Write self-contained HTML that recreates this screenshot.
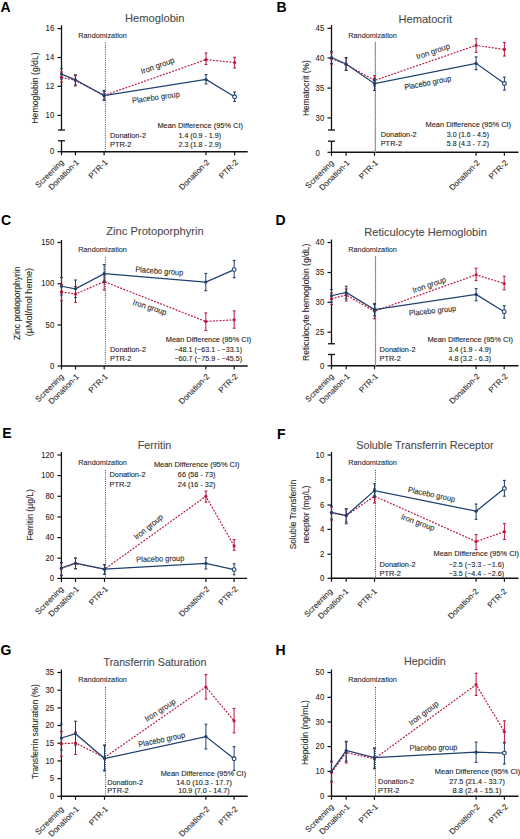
<!DOCTYPE html><html><head><meta charset="utf-8"><style>html,body{margin:0;padding:0;background:#fff;}svg{display:block;}text{font-family:"Liberation Sans", sans-serif;}</style></head><body>
<svg width="520" height="839" viewBox="0 0 520 839">
<rect width="520" height="839" fill="#fff"/>
<text x="0.5" y="12.3" font-size="14" fill="#000" stroke="#000" stroke-width="0" text-anchor="start" font-weight="bold">A</text>
<text x="154.8" y="22.3" font-size="11" fill="#4a4a4a" stroke="#4a4a4a" stroke-width="0.1" text-anchor="middle" font-weight="normal" textLength="59.5" lengthAdjust="spacingAndGlyphs">Hemoglobin</text>
<line x1="61.5" y1="25.2" x2="61.5" y2="130" stroke="#111" stroke-width="1.3"/>
<line x1="58.0" y1="130" x2="65.0" y2="130" stroke="#111" stroke-width="1.3"/>
<line x1="58.0" y1="140.8" x2="65.0" y2="140.8" stroke="#111" stroke-width="1.3"/>
<line x1="61.5" y1="140.8" x2="61.5" y2="151.7" stroke="#111" stroke-width="1.3"/>
<line x1="57.5" y1="28.6" x2="61.5" y2="28.6" stroke="#111" stroke-width="1.2"/>
<text x="54.2" y="31.3" font-size="8.6" fill="#2a2a2a" stroke="#2a2a2a" stroke-width="0.1" text-anchor="end" font-weight="normal" textLength="8.61" lengthAdjust="spacingAndGlyphs">16</text>
<line x1="57.5" y1="57.5" x2="61.5" y2="57.5" stroke="#111" stroke-width="1.2"/>
<text x="54.2" y="60.2" font-size="8.6" fill="#2a2a2a" stroke="#2a2a2a" stroke-width="0.1" text-anchor="end" font-weight="normal" textLength="8.61" lengthAdjust="spacingAndGlyphs">14</text>
<line x1="57.5" y1="86.3" x2="61.5" y2="86.3" stroke="#111" stroke-width="1.2"/>
<text x="54.2" y="89.0" font-size="8.6" fill="#2a2a2a" stroke="#2a2a2a" stroke-width="0.1" text-anchor="end" font-weight="normal" textLength="8.61" lengthAdjust="spacingAndGlyphs">12</text>
<line x1="57.5" y1="115.4" x2="61.5" y2="115.4" stroke="#111" stroke-width="1.2"/>
<text x="54.2" y="118.10000000000001" font-size="8.6" fill="#2a2a2a" stroke="#2a2a2a" stroke-width="0.1" text-anchor="end" font-weight="normal" textLength="8.61" lengthAdjust="spacingAndGlyphs">10</text>
<line x1="57.5" y1="151.7" x2="61.5" y2="151.7" stroke="#111" stroke-width="1.2"/>
<text x="54.2" y="154.39999999999998" font-size="8.6" fill="#2a2a2a" stroke="#2a2a2a" stroke-width="0.1" text-anchor="end" font-weight="normal" textLength="4.3" lengthAdjust="spacingAndGlyphs">0</text>
<line x1="60.9" y1="151.7" x2="247.7" y2="151.7" stroke="#111" stroke-width="1.4"/>
<line x1="61.5" y1="151.7" x2="61.5" y2="155.2" stroke="#111" stroke-width="1.2"/>
<line x1="75.4" y1="151.7" x2="75.4" y2="155.2" stroke="#111" stroke-width="1.2"/>
<line x1="104.1" y1="151.7" x2="104.1" y2="155.2" stroke="#111" stroke-width="1.2"/>
<line x1="206" y1="151.7" x2="206" y2="155.2" stroke="#111" stroke-width="1.2"/>
<line x1="234.6" y1="151.7" x2="234.6" y2="155.2" stroke="#111" stroke-width="1.2"/>
<text x="64.1" y="162.8" font-size="8" fill="#2a2a2a" stroke="#2a2a2a" stroke-width="0.1" text-anchor="end" font-weight="normal" transform="rotate(-45 64.1 162.8)">Screening</text>
<text x="79.4" y="162.8" font-size="8" fill="#2a2a2a" stroke="#2a2a2a" stroke-width="0.1" text-anchor="end" font-weight="normal" transform="rotate(-45 79.4 162.8)">Donation-1</text>
<text x="108.1" y="162.8" font-size="8" fill="#2a2a2a" stroke="#2a2a2a" stroke-width="0.1" text-anchor="end" font-weight="normal" transform="rotate(-45 108.1 162.8)">PTR-1</text>
<text x="210.0" y="162.8" font-size="8" fill="#2a2a2a" stroke="#2a2a2a" stroke-width="0.1" text-anchor="end" font-weight="normal" transform="rotate(-45 210.0 162.8)">Donation-2</text>
<text x="238.6" y="162.8" font-size="8" fill="#2a2a2a" stroke="#2a2a2a" stroke-width="0.1" text-anchor="end" font-weight="normal" transform="rotate(-45 238.6 162.8)">PTR-2</text>
<text x="38.2" y="88" font-size="9.8" fill="#2a2a2a" stroke="#2a2a2a" stroke-width="0.1" text-anchor="middle" font-weight="normal" transform="rotate(-90 38.2 88)" textLength="71.3" lengthAdjust="spacingAndGlyphs">Hemoglobin (g/dL)</text>
<line x1="105.4" y1="42.5" x2="105.4" y2="151.7" stroke="#333" stroke-width="0.9" stroke-dasharray="1,1.2"/>
<text x="78.3" y="38.400000000000006" font-size="7.6" fill="#2a2a2a" stroke="#2a2a2a" stroke-width="0.1" text-anchor="start" font-weight="normal" textLength="48.6" lengthAdjust="spacingAndGlyphs">Randomization</text>
<path d="M61.5,77.3 L75.4,80.5 L104.1,95.5 L206,59.6 L234.6,62.5" fill="none" stroke="#bb173f" stroke-width="1.2" stroke-dasharray="1.9,1.4"/>
<line x1="61.5" y1="72" x2="61.5" y2="82" stroke="#bb173f" stroke-width="1.0"/>
<line x1="60.1" y1="72" x2="62.9" y2="72" stroke="#bb173f" stroke-width="1.1"/>
<line x1="60.1" y1="82" x2="62.9" y2="82" stroke="#bb173f" stroke-width="1.1"/>
<circle cx="61.5" cy="77.3" r="1.6" fill="#bb173f"/>
<line x1="75.4" y1="75.5" x2="75.4" y2="86" stroke="#bb173f" stroke-width="1.0"/>
<line x1="74.0" y1="75.5" x2="76.80000000000001" y2="75.5" stroke="#bb173f" stroke-width="1.1"/>
<line x1="74.0" y1="86" x2="76.80000000000001" y2="86" stroke="#bb173f" stroke-width="1.1"/>
<circle cx="75.4" cy="80.5" r="1.6" fill="#bb173f"/>
<line x1="104.1" y1="91" x2="104.1" y2="100" stroke="#bb173f" stroke-width="1.0"/>
<line x1="102.69999999999999" y1="91" x2="105.5" y2="91" stroke="#bb173f" stroke-width="1.1"/>
<line x1="102.69999999999999" y1="100" x2="105.5" y2="100" stroke="#bb173f" stroke-width="1.1"/>
<circle cx="104.1" cy="95.5" r="1.6" fill="#bb173f"/>
<line x1="206" y1="53" x2="206" y2="64.5" stroke="#bb173f" stroke-width="1.0"/>
<line x1="204.6" y1="53" x2="207.4" y2="53" stroke="#bb173f" stroke-width="1.1"/>
<line x1="204.6" y1="64.5" x2="207.4" y2="64.5" stroke="#bb173f" stroke-width="1.1"/>
<circle cx="206" cy="59.6" r="1.6" fill="#bb173f"/>
<line x1="234.6" y1="57.3" x2="234.6" y2="68" stroke="#bb173f" stroke-width="1.0"/>
<line x1="233.2" y1="57.3" x2="236.0" y2="57.3" stroke="#bb173f" stroke-width="1.1"/>
<line x1="233.2" y1="68" x2="236.0" y2="68" stroke="#bb173f" stroke-width="1.1"/>
<circle cx="234.6" cy="62.5" r="1.6" fill="#bb173f"/>
<path d="M61.5,74.1 L75.4,79.8 L104.1,95.5 L206,79.5 L234.6,96.8" fill="none" stroke="#1d406c" stroke-width="1.25"/>
<line x1="61.5" y1="68.7" x2="61.5" y2="79" stroke="#1d406c" stroke-width="1.0"/>
<line x1="60.1" y1="68.7" x2="62.9" y2="68.7" stroke="#1d406c" stroke-width="1.1"/>
<line x1="60.1" y1="79" x2="62.9" y2="79" stroke="#1d406c" stroke-width="1.1"/>
<circle cx="61.5" cy="74.1" r="1.6" fill="#1d406c"/>
<line x1="75.4" y1="74.8" x2="75.4" y2="85" stroke="#1d406c" stroke-width="1.0"/>
<line x1="74.0" y1="74.8" x2="76.80000000000001" y2="74.8" stroke="#1d406c" stroke-width="1.1"/>
<line x1="74.0" y1="85" x2="76.80000000000001" y2="85" stroke="#1d406c" stroke-width="1.1"/>
<circle cx="75.4" cy="79.8" r="1.6" fill="#1d406c"/>
<line x1="104.1" y1="90.6" x2="104.1" y2="100.4" stroke="#1d406c" stroke-width="1.0"/>
<line x1="102.69999999999999" y1="90.6" x2="105.5" y2="90.6" stroke="#1d406c" stroke-width="1.1"/>
<line x1="102.69999999999999" y1="100.4" x2="105.5" y2="100.4" stroke="#1d406c" stroke-width="1.1"/>
<circle cx="104.1" cy="95.5" r="1.6" fill="#1d406c"/>
<line x1="206" y1="74.6" x2="206" y2="84" stroke="#1d406c" stroke-width="1.0"/>
<line x1="204.6" y1="74.6" x2="207.4" y2="74.6" stroke="#1d406c" stroke-width="1.1"/>
<line x1="204.6" y1="84" x2="207.4" y2="84" stroke="#1d406c" stroke-width="1.1"/>
<circle cx="206" cy="79.5" r="1.6" fill="#1d406c"/>
<line x1="234.6" y1="92" x2="234.6" y2="101.4" stroke="#1d406c" stroke-width="1.0"/>
<line x1="233.2" y1="92" x2="236.0" y2="92" stroke="#1d406c" stroke-width="1.1"/>
<line x1="233.2" y1="101.4" x2="236.0" y2="101.4" stroke="#1d406c" stroke-width="1.1"/>
<circle cx="234.6" cy="96.8" r="1.9" fill="#fff" stroke="#1d406c" stroke-width="1.1"/>
<text x="158.5" y="68.3" font-size="8" fill="#2a2a2a" stroke="#2a2a2a" stroke-width="0.1" text-anchor="middle" font-weight="normal" transform="rotate(-20 158.5 68.3)" textLength="35" lengthAdjust="spacingAndGlyphs">Iron group</text>
<text x="156.3" y="100" font-size="8" fill="#2a2a2a" stroke="#2a2a2a" stroke-width="0.1" text-anchor="middle" font-weight="normal" transform="rotate(-8 156.3 100)" textLength="48" lengthAdjust="spacingAndGlyphs">Placebo group</text>
<text x="200.2" y="127.8" font-size="7.4" fill="#222" stroke="#222" stroke-width="0.1" text-anchor="middle" font-weight="normal" textLength="85.5" lengthAdjust="spacingAndGlyphs">Mean Difference (95% CI)</text>
<text x="110" y="138" font-size="7.4" fill="#222" stroke="#222" stroke-width="0.1" text-anchor="start" font-weight="normal" textLength="36" lengthAdjust="spacingAndGlyphs">Donation-2</text>
<text x="110" y="147.1" font-size="7.4" fill="#222" stroke="#222" stroke-width="0.1" text-anchor="start" font-weight="normal">PTR-2</text>
<text x="199.8" y="138" font-size="7.4" fill="#222" stroke="#222" stroke-width="0.1" text-anchor="middle" font-weight="normal" textLength="42.6" lengthAdjust="spacingAndGlyphs">1.4 (0.9 - 1.9)</text>
<text x="199.8" y="147.1" font-size="7.4" fill="#222" stroke="#222" stroke-width="0.1" text-anchor="middle" font-weight="normal" textLength="42.6" lengthAdjust="spacingAndGlyphs">2.3 (1.8 - 2.9)</text>
<text x="276.5" y="12.3" font-size="14" fill="#000" stroke="#000" stroke-width="0" text-anchor="start" font-weight="bold">B</text>
<text x="425.3" y="22.7" font-size="11" fill="#4a4a4a" stroke="#4a4a4a" stroke-width="0.1" text-anchor="middle" font-weight="normal" textLength="53.5" lengthAdjust="spacingAndGlyphs">Hematocrit</text>
<line x1="331.5" y1="25" x2="331.5" y2="130" stroke="#111" stroke-width="1.3"/>
<line x1="328.0" y1="130" x2="335.0" y2="130" stroke="#111" stroke-width="1.3"/>
<line x1="328.0" y1="141.2" x2="335.0" y2="141.2" stroke="#111" stroke-width="1.3"/>
<line x1="331.5" y1="141.2" x2="331.5" y2="152.3" stroke="#111" stroke-width="1.3"/>
<line x1="327.5" y1="28.3" x2="331.5" y2="28.3" stroke="#111" stroke-width="1.2"/>
<text x="324.2" y="31.0" font-size="8.6" fill="#2a2a2a" stroke="#2a2a2a" stroke-width="0.1" text-anchor="end" font-weight="normal" textLength="8.61" lengthAdjust="spacingAndGlyphs">45</text>
<line x1="327.5" y1="58" x2="331.5" y2="58" stroke="#111" stroke-width="1.2"/>
<text x="324.2" y="60.7" font-size="8.6" fill="#2a2a2a" stroke="#2a2a2a" stroke-width="0.1" text-anchor="end" font-weight="normal" textLength="8.61" lengthAdjust="spacingAndGlyphs">40</text>
<line x1="327.5" y1="88.1" x2="331.5" y2="88.1" stroke="#111" stroke-width="1.2"/>
<text x="324.2" y="90.8" font-size="8.6" fill="#2a2a2a" stroke="#2a2a2a" stroke-width="0.1" text-anchor="end" font-weight="normal" textLength="8.61" lengthAdjust="spacingAndGlyphs">35</text>
<line x1="327.5" y1="117.9" x2="331.5" y2="117.9" stroke="#111" stroke-width="1.2"/>
<text x="324.2" y="120.60000000000001" font-size="8.6" fill="#2a2a2a" stroke="#2a2a2a" stroke-width="0.1" text-anchor="end" font-weight="normal" textLength="8.61" lengthAdjust="spacingAndGlyphs">30</text>
<line x1="327.5" y1="152.3" x2="331.5" y2="152.3" stroke="#111" stroke-width="1.2"/>
<text x="319.7" y="155.7" font-size="8.6" fill="#2a2a2a" stroke="#2a2a2a" stroke-width="0.1" text-anchor="end" font-weight="normal" textLength="4.3" lengthAdjust="spacingAndGlyphs">0</text>
<line x1="330.9" y1="152.3" x2="518.5" y2="152.3" stroke="#111" stroke-width="1.4"/>
<line x1="331.5" y1="152.3" x2="331.5" y2="155.8" stroke="#111" stroke-width="1.2"/>
<line x1="346.1" y1="152.3" x2="346.1" y2="155.8" stroke="#111" stroke-width="1.2"/>
<line x1="374.5" y1="152.3" x2="374.5" y2="155.8" stroke="#111" stroke-width="1.2"/>
<line x1="476.1" y1="152.3" x2="476.1" y2="155.8" stroke="#111" stroke-width="1.2"/>
<line x1="504.4" y1="152.3" x2="504.4" y2="155.8" stroke="#111" stroke-width="1.2"/>
<text x="334.1" y="163.4" font-size="8" fill="#2a2a2a" stroke="#2a2a2a" stroke-width="0.1" text-anchor="end" font-weight="normal" transform="rotate(-45 334.1 163.4)">Screening</text>
<text x="350.1" y="163.4" font-size="8" fill="#2a2a2a" stroke="#2a2a2a" stroke-width="0.1" text-anchor="end" font-weight="normal" transform="rotate(-45 350.1 163.4)">Donation-1</text>
<text x="378.5" y="163.4" font-size="8" fill="#2a2a2a" stroke="#2a2a2a" stroke-width="0.1" text-anchor="end" font-weight="normal" transform="rotate(-45 378.5 163.4)">PTR-1</text>
<text x="480.1" y="163.4" font-size="8" fill="#2a2a2a" stroke="#2a2a2a" stroke-width="0.1" text-anchor="end" font-weight="normal" transform="rotate(-45 480.1 163.4)">Donation-2</text>
<text x="508.4" y="163.4" font-size="8" fill="#2a2a2a" stroke="#2a2a2a" stroke-width="0.1" text-anchor="end" font-weight="normal" transform="rotate(-45 508.4 163.4)">PTR-2</text>
<text x="308.8" y="88.2" font-size="9.8" fill="#2a2a2a" stroke="#2a2a2a" stroke-width="0.1" text-anchor="middle" font-weight="normal" transform="rotate(-90 308.8 88.2)" textLength="55.8" lengthAdjust="spacingAndGlyphs">Hematocrit (%)</text>
<line x1="375.4" y1="42" x2="375.4" y2="152.3" stroke="#b4b4b4" stroke-width="1.3"/>
<line x1="375.4" y1="42" x2="375.4" y2="152.3" stroke="#666" stroke-width="0.9" stroke-dasharray="1,1.2"/>
<text x="348.3" y="38.400000000000006" font-size="7.6" fill="#2a2a2a" stroke="#2a2a2a" stroke-width="0.1" text-anchor="start" font-weight="normal" textLength="48.6" lengthAdjust="spacingAndGlyphs">Randomization</text>
<path d="M331.5,58.5 L346.1,64.5 L374.5,80.4 L476.1,45.4 L504.4,49.4" fill="none" stroke="#bb173f" stroke-width="1.2" stroke-dasharray="1.9,1.4"/>
<line x1="331.5" y1="53" x2="331.5" y2="64" stroke="#bb173f" stroke-width="1.0"/>
<line x1="330.1" y1="53" x2="332.9" y2="53" stroke="#bb173f" stroke-width="1.1"/>
<line x1="330.1" y1="64" x2="332.9" y2="64" stroke="#bb173f" stroke-width="1.1"/>
<circle cx="331.5" cy="58.5" r="1.6" fill="#bb173f"/>
<line x1="346.1" y1="58" x2="346.1" y2="70.5" stroke="#bb173f" stroke-width="1.0"/>
<line x1="344.70000000000005" y1="58" x2="347.5" y2="58" stroke="#bb173f" stroke-width="1.1"/>
<line x1="344.70000000000005" y1="70.5" x2="347.5" y2="70.5" stroke="#bb173f" stroke-width="1.1"/>
<circle cx="346.1" cy="64.5" r="1.6" fill="#bb173f"/>
<line x1="374.5" y1="75.7" x2="374.5" y2="86" stroke="#bb173f" stroke-width="1.0"/>
<line x1="373.1" y1="75.7" x2="375.9" y2="75.7" stroke="#bb173f" stroke-width="1.1"/>
<line x1="373.1" y1="86" x2="375.9" y2="86" stroke="#bb173f" stroke-width="1.1"/>
<circle cx="374.5" cy="80.4" r="1.6" fill="#bb173f"/>
<line x1="476.1" y1="38.7" x2="476.1" y2="52.3" stroke="#bb173f" stroke-width="1.0"/>
<line x1="474.70000000000005" y1="38.7" x2="477.5" y2="38.7" stroke="#bb173f" stroke-width="1.1"/>
<line x1="474.70000000000005" y1="52.3" x2="477.5" y2="52.3" stroke="#bb173f" stroke-width="1.1"/>
<circle cx="476.1" cy="45.4" r="1.6" fill="#bb173f"/>
<line x1="504.4" y1="42.5" x2="504.4" y2="56" stroke="#bb173f" stroke-width="1.0"/>
<line x1="503.0" y1="42.5" x2="505.79999999999995" y2="42.5" stroke="#bb173f" stroke-width="1.1"/>
<line x1="503.0" y1="56" x2="505.79999999999995" y2="56" stroke="#bb173f" stroke-width="1.1"/>
<circle cx="504.4" cy="49.4" r="1.6" fill="#bb173f"/>
<path d="M331.5,57.5 L346.1,64 L374.5,83.7 L476.1,63.3 L504.4,83.5" fill="none" stroke="#1d406c" stroke-width="1.25"/>
<line x1="331.5" y1="51.4" x2="331.5" y2="63.5" stroke="#1d406c" stroke-width="1.0"/>
<line x1="330.1" y1="51.4" x2="332.9" y2="51.4" stroke="#1d406c" stroke-width="1.1"/>
<line x1="330.1" y1="63.5" x2="332.9" y2="63.5" stroke="#1d406c" stroke-width="1.1"/>
<circle cx="331.5" cy="57.5" r="1.6" fill="#1d406c"/>
<line x1="346.1" y1="57.5" x2="346.1" y2="70.3" stroke="#1d406c" stroke-width="1.0"/>
<line x1="344.70000000000005" y1="57.5" x2="347.5" y2="57.5" stroke="#1d406c" stroke-width="1.1"/>
<line x1="344.70000000000005" y1="70.3" x2="347.5" y2="70.3" stroke="#1d406c" stroke-width="1.1"/>
<circle cx="346.1" cy="64" r="1.6" fill="#1d406c"/>
<line x1="374.5" y1="78.4" x2="374.5" y2="90.5" stroke="#1d406c" stroke-width="1.0"/>
<line x1="373.1" y1="78.4" x2="375.9" y2="78.4" stroke="#1d406c" stroke-width="1.1"/>
<line x1="373.1" y1="90.5" x2="375.9" y2="90.5" stroke="#1d406c" stroke-width="1.1"/>
<circle cx="374.5" cy="83.7" r="1.6" fill="#1d406c"/>
<line x1="476.1" y1="56.9" x2="476.1" y2="69.6" stroke="#1d406c" stroke-width="1.0"/>
<line x1="474.70000000000005" y1="56.9" x2="477.5" y2="56.9" stroke="#1d406c" stroke-width="1.1"/>
<line x1="474.70000000000005" y1="69.6" x2="477.5" y2="69.6" stroke="#1d406c" stroke-width="1.1"/>
<circle cx="476.1" cy="63.3" r="1.6" fill="#1d406c"/>
<line x1="504.4" y1="77.1" x2="504.4" y2="90.1" stroke="#1d406c" stroke-width="1.0"/>
<line x1="503.0" y1="77.1" x2="505.79999999999995" y2="77.1" stroke="#1d406c" stroke-width="1.1"/>
<line x1="503.0" y1="90.1" x2="505.79999999999995" y2="90.1" stroke="#1d406c" stroke-width="1.1"/>
<circle cx="504.4" cy="83.5" r="1.9" fill="#fff" stroke="#1d406c" stroke-width="1.1"/>
<text x="433.9" y="54" font-size="8" fill="#2a2a2a" stroke="#2a2a2a" stroke-width="0.1" text-anchor="middle" font-weight="normal" transform="rotate(-19 433.9 54)" textLength="35" lengthAdjust="spacingAndGlyphs">Iron group</text>
<text x="428.2" y="85.5" font-size="8" fill="#2a2a2a" stroke="#2a2a2a" stroke-width="0.1" text-anchor="middle" font-weight="normal" transform="rotate(-11 428.2 85.5)" textLength="47.5" lengthAdjust="spacingAndGlyphs">Placebo group</text>
<text x="468.3" y="126.8" font-size="7.4" fill="#222" stroke="#222" stroke-width="0.1" text-anchor="middle" font-weight="normal" textLength="85.5" lengthAdjust="spacingAndGlyphs">Mean Difference (95% CI)</text>
<text x="380.7" y="137.1" font-size="7.4" fill="#222" stroke="#222" stroke-width="0.1" text-anchor="start" font-weight="normal" textLength="36" lengthAdjust="spacingAndGlyphs">Donation-2</text>
<text x="380.7" y="146.3" font-size="7.4" fill="#222" stroke="#222" stroke-width="0.1" text-anchor="start" font-weight="normal">PTR-2</text>
<text x="468" y="137.1" font-size="7.4" fill="#222" stroke="#222" stroke-width="0.1" text-anchor="middle" font-weight="normal" textLength="42.3" lengthAdjust="spacingAndGlyphs">3.0 (1.6 - 4.5)</text>
<text x="468" y="146.3" font-size="7.4" fill="#222" stroke="#222" stroke-width="0.1" text-anchor="middle" font-weight="normal" textLength="42.3" lengthAdjust="spacingAndGlyphs">5.8 (4.3 - 7.2)</text>
<text x="1" y="225" font-size="14" fill="#000" stroke="#000" stroke-width="0" text-anchor="start" font-weight="bold">C</text>
<text x="155" y="235.4" font-size="11" fill="#4a4a4a" stroke="#4a4a4a" stroke-width="0.1" text-anchor="middle" font-weight="normal" textLength="97.4" lengthAdjust="spacingAndGlyphs">Zinc Protoporphyrin</text>
<line x1="61.5" y1="240" x2="61.5" y2="366" stroke="#111" stroke-width="1.3"/>
<line x1="57.5" y1="242.5" x2="61.5" y2="242.5" stroke="#111" stroke-width="1.2"/>
<text x="54.2" y="245.2" font-size="8.6" fill="#2a2a2a" stroke="#2a2a2a" stroke-width="0.1" text-anchor="end" font-weight="normal" textLength="12.91" lengthAdjust="spacingAndGlyphs">150</text>
<line x1="57.5" y1="283.75" x2="61.5" y2="283.75" stroke="#111" stroke-width="1.2"/>
<text x="54.2" y="286.45" font-size="8.6" fill="#2a2a2a" stroke="#2a2a2a" stroke-width="0.1" text-anchor="end" font-weight="normal" textLength="12.91" lengthAdjust="spacingAndGlyphs">100</text>
<line x1="57.5" y1="325" x2="61.5" y2="325" stroke="#111" stroke-width="1.2"/>
<text x="54.2" y="327.7" font-size="8.6" fill="#2a2a2a" stroke="#2a2a2a" stroke-width="0.1" text-anchor="end" font-weight="normal" textLength="8.61" lengthAdjust="spacingAndGlyphs">50</text>
<line x1="57.5" y1="366" x2="61.5" y2="366" stroke="#111" stroke-width="1.2"/>
<text x="54.2" y="368.7" font-size="8.6" fill="#2a2a2a" stroke="#2a2a2a" stroke-width="0.1" text-anchor="end" font-weight="normal" textLength="4.3" lengthAdjust="spacingAndGlyphs">0</text>
<line x1="60.9" y1="366" x2="247.7" y2="366" stroke="#111" stroke-width="1.4"/>
<line x1="61.5" y1="366" x2="61.5" y2="369.5" stroke="#111" stroke-width="1.2"/>
<line x1="75.5" y1="366" x2="75.5" y2="369.5" stroke="#111" stroke-width="1.2"/>
<line x1="104.2" y1="366" x2="104.2" y2="369.5" stroke="#111" stroke-width="1.2"/>
<line x1="205.8" y1="366" x2="205.8" y2="369.5" stroke="#111" stroke-width="1.2"/>
<line x1="234.2" y1="366" x2="234.2" y2="369.5" stroke="#111" stroke-width="1.2"/>
<text x="64.1" y="377.1" font-size="8" fill="#2a2a2a" stroke="#2a2a2a" stroke-width="0.1" text-anchor="end" font-weight="normal" transform="rotate(-45 64.1 377.1)">Screening</text>
<text x="79.5" y="377.1" font-size="8" fill="#2a2a2a" stroke="#2a2a2a" stroke-width="0.1" text-anchor="end" font-weight="normal" transform="rotate(-45 79.5 377.1)">Donation-1</text>
<text x="108.2" y="377.1" font-size="8" fill="#2a2a2a" stroke="#2a2a2a" stroke-width="0.1" text-anchor="end" font-weight="normal" transform="rotate(-45 108.2 377.1)">PTR-1</text>
<text x="209.8" y="377.1" font-size="8" fill="#2a2a2a" stroke="#2a2a2a" stroke-width="0.1" text-anchor="end" font-weight="normal" transform="rotate(-45 209.8 377.1)">Donation-2</text>
<text x="238.2" y="377.1" font-size="8" fill="#2a2a2a" stroke="#2a2a2a" stroke-width="0.1" text-anchor="end" font-weight="normal" transform="rotate(-45 238.2 377.1)">PTR-2</text>
<text x="20.5" y="303.2" font-size="9.8" fill="#2a2a2a" stroke="#2a2a2a" stroke-width="0.1" text-anchor="middle" font-weight="normal" transform="rotate(-90 20.5 303.2)" textLength="73.6" lengthAdjust="spacingAndGlyphs">Zinc protoporphyrin</text>
<text x="32.2" y="302.1" font-size="9.8" fill="#2a2a2a" stroke="#2a2a2a" stroke-width="0.1" text-anchor="middle" font-weight="normal" transform="rotate(-90 32.2 302.1)" textLength="68.5" lengthAdjust="spacingAndGlyphs">(µMol/mol heme)</text>
<line x1="105.4" y1="257.5" x2="105.4" y2="366" stroke="#333" stroke-width="0.9" stroke-dasharray="1,1.2"/>
<text x="78.3" y="251.7" font-size="7.6" fill="#2a2a2a" stroke="#2a2a2a" stroke-width="0.1" text-anchor="start" font-weight="normal" textLength="48.6" lengthAdjust="spacingAndGlyphs">Randomization</text>
<path d="M61.5,291.9 L75.5,294 L104.2,281.6 L205.8,321.5 L234.2,319.8" fill="none" stroke="#bb173f" stroke-width="1.2" stroke-dasharray="1.9,1.4"/>
<line x1="61.5" y1="284.5" x2="61.5" y2="300.6" stroke="#bb173f" stroke-width="1.0"/>
<line x1="60.1" y1="284.5" x2="62.9" y2="284.5" stroke="#bb173f" stroke-width="1.1"/>
<line x1="60.1" y1="300.6" x2="62.9" y2="300.6" stroke="#bb173f" stroke-width="1.1"/>
<circle cx="61.5" cy="291.9" r="1.6" fill="#bb173f"/>
<line x1="75.5" y1="286.5" x2="75.5" y2="302.5" stroke="#bb173f" stroke-width="1.0"/>
<line x1="74.1" y1="286.5" x2="76.9" y2="286.5" stroke="#bb173f" stroke-width="1.1"/>
<line x1="74.1" y1="302.5" x2="76.9" y2="302.5" stroke="#bb173f" stroke-width="1.1"/>
<circle cx="75.5" cy="294" r="1.6" fill="#bb173f"/>
<line x1="104.2" y1="273.4" x2="104.2" y2="290" stroke="#bb173f" stroke-width="1.0"/>
<line x1="102.8" y1="273.4" x2="105.60000000000001" y2="273.4" stroke="#bb173f" stroke-width="1.1"/>
<line x1="102.8" y1="290" x2="105.60000000000001" y2="290" stroke="#bb173f" stroke-width="1.1"/>
<circle cx="104.2" cy="281.6" r="1.6" fill="#bb173f"/>
<line x1="205.8" y1="312.9" x2="205.8" y2="330.5" stroke="#bb173f" stroke-width="1.0"/>
<line x1="204.4" y1="312.9" x2="207.20000000000002" y2="312.9" stroke="#bb173f" stroke-width="1.1"/>
<line x1="204.4" y1="330.5" x2="207.20000000000002" y2="330.5" stroke="#bb173f" stroke-width="1.1"/>
<circle cx="205.8" cy="321.5" r="1.6" fill="#bb173f"/>
<line x1="234.2" y1="310.9" x2="234.2" y2="328.2" stroke="#bb173f" stroke-width="1.0"/>
<line x1="232.79999999999998" y1="310.9" x2="235.6" y2="310.9" stroke="#bb173f" stroke-width="1.1"/>
<line x1="232.79999999999998" y1="328.2" x2="235.6" y2="328.2" stroke="#bb173f" stroke-width="1.1"/>
<circle cx="234.2" cy="319.8" r="1.6" fill="#bb173f"/>
<path d="M61.5,286.25 L75.5,288.75 L104.2,273.6 L205.8,282 L234.2,269.6" fill="none" stroke="#1d406c" stroke-width="1.25"/>
<line x1="61.5" y1="277.5" x2="61.5" y2="295" stroke="#1d406c" stroke-width="1.0"/>
<line x1="60.1" y1="277.5" x2="62.9" y2="277.5" stroke="#1d406c" stroke-width="1.1"/>
<line x1="60.1" y1="295" x2="62.9" y2="295" stroke="#1d406c" stroke-width="1.1"/>
<circle cx="61.5" cy="286.25" r="1.6" fill="#1d406c"/>
<line x1="75.5" y1="280" x2="75.5" y2="297.5" stroke="#1d406c" stroke-width="1.0"/>
<line x1="74.1" y1="280" x2="76.9" y2="280" stroke="#1d406c" stroke-width="1.1"/>
<line x1="74.1" y1="297.5" x2="76.9" y2="297.5" stroke="#1d406c" stroke-width="1.1"/>
<circle cx="75.5" cy="288.75" r="1.6" fill="#1d406c"/>
<line x1="104.2" y1="264.6" x2="104.2" y2="282.6" stroke="#1d406c" stroke-width="1.0"/>
<line x1="102.8" y1="264.6" x2="105.60000000000001" y2="264.6" stroke="#1d406c" stroke-width="1.1"/>
<line x1="102.8" y1="282.6" x2="105.60000000000001" y2="282.6" stroke="#1d406c" stroke-width="1.1"/>
<circle cx="104.2" cy="273.6" r="1.6" fill="#1d406c"/>
<line x1="205.8" y1="273.4" x2="205.8" y2="290.7" stroke="#1d406c" stroke-width="1.0"/>
<line x1="204.4" y1="273.4" x2="207.20000000000002" y2="273.4" stroke="#1d406c" stroke-width="1.1"/>
<line x1="204.4" y1="290.7" x2="207.20000000000002" y2="290.7" stroke="#1d406c" stroke-width="1.1"/>
<circle cx="205.8" cy="282" r="1.6" fill="#1d406c"/>
<line x1="234.2" y1="260.4" x2="234.2" y2="277.7" stroke="#1d406c" stroke-width="1.0"/>
<line x1="232.79999999999998" y1="260.4" x2="235.6" y2="260.4" stroke="#1d406c" stroke-width="1.1"/>
<line x1="232.79999999999998" y1="277.7" x2="235.6" y2="277.7" stroke="#1d406c" stroke-width="1.1"/>
<circle cx="234.2" cy="269.6" r="1.9" fill="#fff" stroke="#1d406c" stroke-width="1.1"/>
<text x="159.1" y="273.8" font-size="8" fill="#2a2a2a" stroke="#2a2a2a" stroke-width="0.1" text-anchor="middle" font-weight="normal" transform="rotate(4 159.1 273.8)" textLength="48" lengthAdjust="spacingAndGlyphs">Placebo group</text>
<text x="149" y="309.9" font-size="8" fill="#2a2a2a" stroke="#2a2a2a" stroke-width="0.1" text-anchor="middle" font-weight="normal" transform="rotate(18 149 309.9)" textLength="35" lengthAdjust="spacingAndGlyphs">Iron group</text>
<text x="208.5" y="341.6" font-size="7.4" fill="#222" stroke="#222" stroke-width="0.1" text-anchor="middle" font-weight="normal" textLength="85.5" lengthAdjust="spacingAndGlyphs">Mean Difference (95% CI)</text>
<text x="110" y="351.7" font-size="7.4" fill="#222" stroke="#222" stroke-width="0.1" text-anchor="start" font-weight="normal" textLength="36" lengthAdjust="spacingAndGlyphs">Donation-2</text>
<text x="110" y="361" font-size="7.4" fill="#222" stroke="#222" stroke-width="0.1" text-anchor="start" font-weight="normal">PTR-2</text>
<text x="208.3" y="351.7" font-size="7.4" fill="#222" stroke="#222" stroke-width="0.1" text-anchor="middle" font-weight="normal" textLength="67.8" lengthAdjust="spacingAndGlyphs">−48.1 (−63.1 - −33.1)</text>
<text x="208.3" y="361" font-size="7.4" fill="#222" stroke="#222" stroke-width="0.1" text-anchor="middle" font-weight="normal" textLength="67.8" lengthAdjust="spacingAndGlyphs">−60.7 (−75.9 - −45.5)</text>
<text x="275.5" y="225.3" font-size="14" fill="#000" stroke="#000" stroke-width="0" text-anchor="start" font-weight="bold">D</text>
<text x="425.6" y="235.7" font-size="11" fill="#4a4a4a" stroke="#4a4a4a" stroke-width="0.1" text-anchor="middle" font-weight="normal" textLength="122.6" lengthAdjust="spacingAndGlyphs">Reticulocyte Hemoglobin</text>
<line x1="331.5" y1="239.5" x2="331.5" y2="343.75" stroke="#111" stroke-width="1.3"/>
<line x1="328.0" y1="343.75" x2="335.0" y2="343.75" stroke="#111" stroke-width="1.3"/>
<line x1="328.0" y1="354.5" x2="335.0" y2="354.5" stroke="#111" stroke-width="1.3"/>
<line x1="331.5" y1="354.5" x2="331.5" y2="365.8" stroke="#111" stroke-width="1.3"/>
<line x1="327.5" y1="242.5" x2="331.5" y2="242.5" stroke="#111" stroke-width="1.2"/>
<text x="324.2" y="245.2" font-size="8.6" fill="#2a2a2a" stroke="#2a2a2a" stroke-width="0.1" text-anchor="end" font-weight="normal" textLength="8.61" lengthAdjust="spacingAndGlyphs">40</text>
<line x1="327.5" y1="272.5" x2="331.5" y2="272.5" stroke="#111" stroke-width="1.2"/>
<text x="324.2" y="275.2" font-size="8.6" fill="#2a2a2a" stroke="#2a2a2a" stroke-width="0.1" text-anchor="end" font-weight="normal" textLength="8.61" lengthAdjust="spacingAndGlyphs">35</text>
<line x1="327.5" y1="302.3" x2="331.5" y2="302.3" stroke="#111" stroke-width="1.2"/>
<text x="324.2" y="305.0" font-size="8.6" fill="#2a2a2a" stroke="#2a2a2a" stroke-width="0.1" text-anchor="end" font-weight="normal" textLength="8.61" lengthAdjust="spacingAndGlyphs">30</text>
<line x1="327.5" y1="332.2" x2="331.5" y2="332.2" stroke="#111" stroke-width="1.2"/>
<text x="324.2" y="334.9" font-size="8.6" fill="#2a2a2a" stroke="#2a2a2a" stroke-width="0.1" text-anchor="end" font-weight="normal" textLength="8.61" lengthAdjust="spacingAndGlyphs">25</text>
<line x1="327.5" y1="365.8" x2="331.5" y2="365.8" stroke="#111" stroke-width="1.2"/>
<text x="324.2" y="368.5" font-size="8.6" fill="#2a2a2a" stroke="#2a2a2a" stroke-width="0.1" text-anchor="end" font-weight="normal" textLength="4.3" lengthAdjust="spacingAndGlyphs">0</text>
<line x1="330.9" y1="365.8" x2="518.5" y2="365.8" stroke="#111" stroke-width="1.4"/>
<line x1="331.5" y1="365.8" x2="331.5" y2="369.3" stroke="#111" stroke-width="1.2"/>
<line x1="346.2" y1="365.8" x2="346.2" y2="369.3" stroke="#111" stroke-width="1.2"/>
<line x1="374.5" y1="365.8" x2="374.5" y2="369.3" stroke="#111" stroke-width="1.2"/>
<line x1="476.1" y1="365.8" x2="476.1" y2="369.3" stroke="#111" stroke-width="1.2"/>
<line x1="504.2" y1="365.8" x2="504.2" y2="369.3" stroke="#111" stroke-width="1.2"/>
<text x="334.1" y="376.9" font-size="8" fill="#2a2a2a" stroke="#2a2a2a" stroke-width="0.1" text-anchor="end" font-weight="normal" transform="rotate(-45 334.1 376.9)">Screening</text>
<text x="350.2" y="376.9" font-size="8" fill="#2a2a2a" stroke="#2a2a2a" stroke-width="0.1" text-anchor="end" font-weight="normal" transform="rotate(-45 350.2 376.9)">Donation-1</text>
<text x="378.5" y="376.9" font-size="8" fill="#2a2a2a" stroke="#2a2a2a" stroke-width="0.1" text-anchor="end" font-weight="normal" transform="rotate(-45 378.5 376.9)">PTR-1</text>
<text x="480.1" y="376.9" font-size="8" fill="#2a2a2a" stroke="#2a2a2a" stroke-width="0.1" text-anchor="end" font-weight="normal" transform="rotate(-45 480.1 376.9)">Donation-2</text>
<text x="508.2" y="376.9" font-size="8" fill="#2a2a2a" stroke="#2a2a2a" stroke-width="0.1" text-anchor="end" font-weight="normal" transform="rotate(-45 508.2 376.9)">PTR-2</text>
<text x="308.7" y="302.3" font-size="9.8" fill="#2a2a2a" stroke="#2a2a2a" stroke-width="0.1" text-anchor="middle" font-weight="normal" transform="rotate(-90 308.7 302.3)" textLength="117.2" lengthAdjust="spacingAndGlyphs">Reticulocyte hemoglobin (g/dL)</text>
<line x1="375.5" y1="256" x2="375.5" y2="365.8" stroke="#b4b4b4" stroke-width="1.3"/>
<line x1="375.5" y1="256" x2="375.5" y2="365.8" stroke="#666" stroke-width="0.9" stroke-dasharray="1,1.2"/>
<text x="348.3" y="251.7" font-size="7.6" fill="#2a2a2a" stroke="#2a2a2a" stroke-width="0.1" text-anchor="start" font-weight="normal" textLength="48.6" lengthAdjust="spacingAndGlyphs">Randomization</text>
<path d="M331.5,298.75 L346.2,295 L374.5,311.25 L476.1,274.8 L504.2,283.5" fill="none" stroke="#bb173f" stroke-width="1.2" stroke-dasharray="1.9,1.4"/>
<line x1="331.5" y1="293" x2="331.5" y2="304.5" stroke="#bb173f" stroke-width="1.0"/>
<line x1="330.1" y1="293" x2="332.9" y2="293" stroke="#bb173f" stroke-width="1.1"/>
<line x1="330.1" y1="304.5" x2="332.9" y2="304.5" stroke="#bb173f" stroke-width="1.1"/>
<circle cx="331.5" cy="298.75" r="1.6" fill="#bb173f"/>
<line x1="346.2" y1="289" x2="346.2" y2="301" stroke="#bb173f" stroke-width="1.0"/>
<line x1="344.8" y1="289" x2="347.59999999999997" y2="289" stroke="#bb173f" stroke-width="1.1"/>
<line x1="344.8" y1="301" x2="347.59999999999997" y2="301" stroke="#bb173f" stroke-width="1.1"/>
<circle cx="346.2" cy="295" r="1.6" fill="#bb173f"/>
<line x1="374.5" y1="304.5" x2="374.5" y2="318.75" stroke="#bb173f" stroke-width="1.0"/>
<line x1="373.1" y1="304.5" x2="375.9" y2="304.5" stroke="#bb173f" stroke-width="1.1"/>
<line x1="373.1" y1="318.75" x2="375.9" y2="318.75" stroke="#bb173f" stroke-width="1.1"/>
<circle cx="374.5" cy="311.25" r="1.6" fill="#bb173f"/>
<line x1="476.1" y1="268.2" x2="476.1" y2="280.6" stroke="#bb173f" stroke-width="1.0"/>
<line x1="474.70000000000005" y1="268.2" x2="477.5" y2="268.2" stroke="#bb173f" stroke-width="1.1"/>
<line x1="474.70000000000005" y1="280.6" x2="477.5" y2="280.6" stroke="#bb173f" stroke-width="1.1"/>
<circle cx="476.1" cy="274.8" r="1.6" fill="#bb173f"/>
<line x1="504.2" y1="276.2" x2="504.2" y2="289.8" stroke="#bb173f" stroke-width="1.0"/>
<line x1="502.8" y1="276.2" x2="505.59999999999997" y2="276.2" stroke="#bb173f" stroke-width="1.1"/>
<line x1="502.8" y1="289.8" x2="505.59999999999997" y2="289.8" stroke="#bb173f" stroke-width="1.1"/>
<circle cx="504.2" cy="283.5" r="1.6" fill="#bb173f"/>
<path d="M331.5,295.75 L346.2,292.5 L374.5,309.6 L476.1,294.4 L504.2,311.7" fill="none" stroke="#1d406c" stroke-width="1.25"/>
<line x1="331.5" y1="289.5" x2="331.5" y2="302" stroke="#1d406c" stroke-width="1.0"/>
<line x1="330.1" y1="289.5" x2="332.9" y2="289.5" stroke="#1d406c" stroke-width="1.1"/>
<line x1="330.1" y1="302" x2="332.9" y2="302" stroke="#1d406c" stroke-width="1.1"/>
<circle cx="331.5" cy="295.75" r="1.6" fill="#1d406c"/>
<line x1="346.2" y1="286.25" x2="346.2" y2="298.75" stroke="#1d406c" stroke-width="1.0"/>
<line x1="344.8" y1="286.25" x2="347.59999999999997" y2="286.25" stroke="#1d406c" stroke-width="1.1"/>
<line x1="344.8" y1="298.75" x2="347.59999999999997" y2="298.75" stroke="#1d406c" stroke-width="1.1"/>
<circle cx="346.2" cy="292.5" r="1.6" fill="#1d406c"/>
<line x1="374.5" y1="303.5" x2="374.5" y2="315.7" stroke="#1d406c" stroke-width="1.0"/>
<line x1="373.1" y1="303.5" x2="375.9" y2="303.5" stroke="#1d406c" stroke-width="1.1"/>
<line x1="373.1" y1="315.7" x2="375.9" y2="315.7" stroke="#1d406c" stroke-width="1.1"/>
<circle cx="374.5" cy="309.6" r="1.6" fill="#1d406c"/>
<line x1="476.1" y1="288.6" x2="476.1" y2="300.8" stroke="#1d406c" stroke-width="1.0"/>
<line x1="474.70000000000005" y1="288.6" x2="477.5" y2="288.6" stroke="#1d406c" stroke-width="1.1"/>
<line x1="474.70000000000005" y1="300.8" x2="477.5" y2="300.8" stroke="#1d406c" stroke-width="1.1"/>
<circle cx="476.1" cy="294.4" r="1.6" fill="#1d406c"/>
<line x1="504.2" y1="305.7" x2="504.2" y2="318.1" stroke="#1d406c" stroke-width="1.0"/>
<line x1="502.8" y1="305.7" x2="505.59999999999997" y2="305.7" stroke="#1d406c" stroke-width="1.1"/>
<line x1="502.8" y1="318.1" x2="505.59999999999997" y2="318.1" stroke="#1d406c" stroke-width="1.1"/>
<circle cx="504.2" cy="311.7" r="1.9" fill="#fff" stroke="#1d406c" stroke-width="1.1"/>
<text x="430.1" y="287.5" font-size="8" fill="#2a2a2a" stroke="#2a2a2a" stroke-width="0.1" text-anchor="middle" font-weight="normal" transform="rotate(-19 430.1 287.5)" textLength="35" lengthAdjust="spacingAndGlyphs">Iron group</text>
<text x="432.8" y="313.4" font-size="8" fill="#2a2a2a" stroke="#2a2a2a" stroke-width="0.1" text-anchor="middle" font-weight="normal" transform="rotate(-6 432.8 313.4)" textLength="47.5" lengthAdjust="spacingAndGlyphs">Placebo group</text>
<text x="470.2" y="341.6" font-size="7.4" fill="#222" stroke="#222" stroke-width="0.1" text-anchor="middle" font-weight="normal" textLength="85.5" lengthAdjust="spacingAndGlyphs">Mean Difference (95% CI)</text>
<text x="379.5" y="351.7" font-size="7.4" fill="#222" stroke="#222" stroke-width="0.1" text-anchor="start" font-weight="normal" textLength="36" lengthAdjust="spacingAndGlyphs">Donation-2</text>
<text x="379.5" y="361" font-size="7.4" fill="#222" stroke="#222" stroke-width="0.1" text-anchor="start" font-weight="normal">PTR-2</text>
<text x="469.8" y="351.7" font-size="7.4" fill="#222" stroke="#222" stroke-width="0.1" text-anchor="middle" font-weight="normal" textLength="42.6" lengthAdjust="spacingAndGlyphs">3.4 (1.9 - 4.9)</text>
<text x="469.8" y="361" font-size="7.4" fill="#222" stroke="#222" stroke-width="0.1" text-anchor="middle" font-weight="normal" textLength="42.6" lengthAdjust="spacingAndGlyphs">4.8 (3.2 - 6.3)</text>
<text x="2.3" y="437.9" font-size="14" fill="#000" stroke="#000" stroke-width="0" text-anchor="start" font-weight="bold">E</text>
<text x="154.5" y="448.9" font-size="11" fill="#4a4a4a" stroke="#4a4a4a" stroke-width="0.1" text-anchor="middle" font-weight="normal" textLength="33.6" lengthAdjust="spacingAndGlyphs">Ferritin</text>
<line x1="61.4" y1="452" x2="61.4" y2="578.4" stroke="#111" stroke-width="1.3"/>
<line x1="57.4" y1="455" x2="61.4" y2="455" stroke="#111" stroke-width="1.2"/>
<text x="54.1" y="457.7" font-size="8.6" fill="#2a2a2a" stroke="#2a2a2a" stroke-width="0.1" text-anchor="end" font-weight="normal" textLength="12.91" lengthAdjust="spacingAndGlyphs">120</text>
<line x1="57.4" y1="475.6" x2="61.4" y2="475.6" stroke="#111" stroke-width="1.2"/>
<text x="54.1" y="478.3" font-size="8.6" fill="#2a2a2a" stroke="#2a2a2a" stroke-width="0.1" text-anchor="end" font-weight="normal" textLength="12.91" lengthAdjust="spacingAndGlyphs">100</text>
<line x1="57.4" y1="496.3" x2="61.4" y2="496.3" stroke="#111" stroke-width="1.2"/>
<text x="54.1" y="499.0" font-size="8.6" fill="#2a2a2a" stroke="#2a2a2a" stroke-width="0.1" text-anchor="end" font-weight="normal" textLength="8.61" lengthAdjust="spacingAndGlyphs">80</text>
<line x1="57.4" y1="517" x2="61.4" y2="517" stroke="#111" stroke-width="1.2"/>
<text x="54.1" y="519.7" font-size="8.6" fill="#2a2a2a" stroke="#2a2a2a" stroke-width="0.1" text-anchor="end" font-weight="normal" textLength="8.61" lengthAdjust="spacingAndGlyphs">60</text>
<line x1="57.4" y1="537.6" x2="61.4" y2="537.6" stroke="#111" stroke-width="1.2"/>
<text x="54.1" y="540.3000000000001" font-size="8.6" fill="#2a2a2a" stroke="#2a2a2a" stroke-width="0.1" text-anchor="end" font-weight="normal" textLength="8.61" lengthAdjust="spacingAndGlyphs">40</text>
<line x1="57.4" y1="558.2" x2="61.4" y2="558.2" stroke="#111" stroke-width="1.2"/>
<text x="54.1" y="560.9000000000001" font-size="8.6" fill="#2a2a2a" stroke="#2a2a2a" stroke-width="0.1" text-anchor="end" font-weight="normal" textLength="8.61" lengthAdjust="spacingAndGlyphs">20</text>
<line x1="57.4" y1="578.4" x2="61.4" y2="578.4" stroke="#111" stroke-width="1.2"/>
<text x="54.1" y="581.1" font-size="8.6" fill="#2a2a2a" stroke="#2a2a2a" stroke-width="0.1" text-anchor="end" font-weight="normal" textLength="4.3" lengthAdjust="spacingAndGlyphs">0</text>
<line x1="60.8" y1="578.4" x2="247.1" y2="578.4" stroke="#111" stroke-width="1.4"/>
<line x1="61.4" y1="578.4" x2="61.4" y2="581.9" stroke="#111" stroke-width="1.2"/>
<line x1="75.5" y1="578.4" x2="75.5" y2="581.9" stroke="#111" stroke-width="1.2"/>
<line x1="104.5" y1="578.4" x2="104.5" y2="581.9" stroke="#111" stroke-width="1.2"/>
<line x1="205.9" y1="578.4" x2="205.9" y2="581.9" stroke="#111" stroke-width="1.2"/>
<line x1="234.1" y1="578.4" x2="234.1" y2="581.9" stroke="#111" stroke-width="1.2"/>
<text x="64.0" y="589.5" font-size="8" fill="#2a2a2a" stroke="#2a2a2a" stroke-width="0.1" text-anchor="end" font-weight="normal" transform="rotate(-45 64.0 589.5)">Screening</text>
<text x="79.5" y="589.5" font-size="8" fill="#2a2a2a" stroke="#2a2a2a" stroke-width="0.1" text-anchor="end" font-weight="normal" transform="rotate(-45 79.5 589.5)">Donation-1</text>
<text x="108.5" y="589.5" font-size="8" fill="#2a2a2a" stroke="#2a2a2a" stroke-width="0.1" text-anchor="end" font-weight="normal" transform="rotate(-45 108.5 589.5)">PTR-1</text>
<text x="209.9" y="589.5" font-size="8" fill="#2a2a2a" stroke="#2a2a2a" stroke-width="0.1" text-anchor="end" font-weight="normal" transform="rotate(-45 209.9 589.5)">Donation-2</text>
<text x="238.1" y="589.5" font-size="8" fill="#2a2a2a" stroke="#2a2a2a" stroke-width="0.1" text-anchor="end" font-weight="normal" transform="rotate(-45 238.1 589.5)">PTR-2</text>
<text x="33.1" y="514.9" font-size="9.8" fill="#2a2a2a" stroke="#2a2a2a" stroke-width="0.1" text-anchor="middle" font-weight="normal" transform="rotate(-90 33.1 514.9)" textLength="51.8" lengthAdjust="spacingAndGlyphs">Ferritin (µg/L)</text>
<line x1="105.5" y1="470" x2="105.5" y2="578.4" stroke="#333" stroke-width="0.9" stroke-dasharray="1,1.2"/>
<text x="78.3" y="464.7" font-size="7.6" fill="#2a2a2a" stroke="#2a2a2a" stroke-width="0.1" text-anchor="start" font-weight="normal" textLength="48.6" lengthAdjust="spacingAndGlyphs">Randomization</text>
<path d="M61.4,568.3 L75.5,563.5 L104.5,569.2 L205.9,496.3 L234.1,546" fill="none" stroke="#bb173f" stroke-width="1.2" stroke-dasharray="1.9,1.4"/>
<line x1="61.4" y1="562.8" x2="61.4" y2="575.2" stroke="#bb173f" stroke-width="1.0"/>
<line x1="60.0" y1="562.8" x2="62.8" y2="562.8" stroke="#bb173f" stroke-width="1.1"/>
<line x1="60.0" y1="575.2" x2="62.8" y2="575.2" stroke="#bb173f" stroke-width="1.1"/>
<circle cx="61.4" cy="568.3" r="1.6" fill="#bb173f"/>
<line x1="75.5" y1="558.2" x2="75.5" y2="568.6" stroke="#bb173f" stroke-width="1.0"/>
<line x1="74.1" y1="558.2" x2="76.9" y2="558.2" stroke="#bb173f" stroke-width="1.1"/>
<line x1="74.1" y1="568.6" x2="76.9" y2="568.6" stroke="#bb173f" stroke-width="1.1"/>
<circle cx="75.5" cy="563.5" r="1.6" fill="#bb173f"/>
<line x1="104.5" y1="564.8" x2="104.5" y2="574.1" stroke="#bb173f" stroke-width="1.0"/>
<line x1="103.1" y1="564.8" x2="105.9" y2="564.8" stroke="#bb173f" stroke-width="1.1"/>
<line x1="103.1" y1="574.1" x2="105.9" y2="574.1" stroke="#bb173f" stroke-width="1.1"/>
<circle cx="104.5" cy="569.2" r="1.6" fill="#bb173f"/>
<line x1="205.9" y1="491.1" x2="205.9" y2="502.1" stroke="#bb173f" stroke-width="1.0"/>
<line x1="204.5" y1="491.1" x2="207.3" y2="491.1" stroke="#bb173f" stroke-width="1.1"/>
<line x1="204.5" y1="502.1" x2="207.3" y2="502.1" stroke="#bb173f" stroke-width="1.1"/>
<circle cx="205.9" cy="496.3" r="1.6" fill="#bb173f"/>
<line x1="234.1" y1="539.6" x2="234.1" y2="550.3" stroke="#bb173f" stroke-width="1.0"/>
<line x1="232.7" y1="539.6" x2="235.5" y2="539.6" stroke="#bb173f" stroke-width="1.1"/>
<line x1="232.7" y1="550.3" x2="235.5" y2="550.3" stroke="#bb173f" stroke-width="1.1"/>
<circle cx="234.1" cy="546" r="1.6" fill="#bb173f"/>
<path d="M61.4,568 L75.5,563.25 L104.5,569.2 L205.9,563.3 L234.1,569.6" fill="none" stroke="#1d406c" stroke-width="1.25"/>
<line x1="61.4" y1="562.5" x2="61.4" y2="575.5" stroke="#1d406c" stroke-width="1.0"/>
<line x1="60.0" y1="562.5" x2="62.8" y2="562.5" stroke="#1d406c" stroke-width="1.1"/>
<line x1="60.0" y1="575.5" x2="62.8" y2="575.5" stroke="#1d406c" stroke-width="1.1"/>
<circle cx="61.4" cy="568" r="1.6" fill="#1d406c"/>
<line x1="75.5" y1="558" x2="75.5" y2="568.75" stroke="#1d406c" stroke-width="1.0"/>
<line x1="74.1" y1="558" x2="76.9" y2="558" stroke="#1d406c" stroke-width="1.1"/>
<line x1="74.1" y1="568.75" x2="76.9" y2="568.75" stroke="#1d406c" stroke-width="1.1"/>
<circle cx="75.5" cy="563.25" r="1.6" fill="#1d406c"/>
<line x1="104.5" y1="564.6" x2="104.5" y2="574.3" stroke="#1d406c" stroke-width="1.0"/>
<line x1="103.1" y1="564.6" x2="105.9" y2="564.6" stroke="#1d406c" stroke-width="1.1"/>
<line x1="103.1" y1="574.3" x2="105.9" y2="574.3" stroke="#1d406c" stroke-width="1.1"/>
<circle cx="104.5" cy="569.2" r="1.6" fill="#1d406c"/>
<line x1="205.9" y1="557.5" x2="205.9" y2="569" stroke="#1d406c" stroke-width="1.0"/>
<line x1="204.5" y1="557.5" x2="207.3" y2="557.5" stroke="#1d406c" stroke-width="1.1"/>
<line x1="204.5" y1="569" x2="207.3" y2="569" stroke="#1d406c" stroke-width="1.1"/>
<circle cx="205.9" cy="563.3" r="1.6" fill="#1d406c"/>
<line x1="234.1" y1="563.8" x2="234.1" y2="574.8" stroke="#1d406c" stroke-width="1.0"/>
<line x1="232.7" y1="563.8" x2="235.5" y2="563.8" stroke="#1d406c" stroke-width="1.1"/>
<line x1="232.7" y1="574.8" x2="235.5" y2="574.8" stroke="#1d406c" stroke-width="1.1"/>
<circle cx="234.1" cy="569.6" r="1.9" fill="#fff" stroke="#1d406c" stroke-width="1.1"/>
<text x="150.1" y="529.1" font-size="8" fill="#2a2a2a" stroke="#2a2a2a" stroke-width="0.1" text-anchor="middle" font-weight="normal" transform="rotate(-39 150.1 529.1)" textLength="35" lengthAdjust="spacingAndGlyphs">Iron group</text>
<text x="160.3" y="561.5" font-size="8" fill="#2a2a2a" stroke="#2a2a2a" stroke-width="0.1" text-anchor="middle" font-weight="normal" transform="rotate(-1.5 160.3 561.5)" textLength="48" lengthAdjust="spacingAndGlyphs">Placebo group</text>
<text x="196.7" y="466.6" font-size="7.4" fill="#222" stroke="#222" stroke-width="0.1" text-anchor="middle" font-weight="normal" textLength="85.5" lengthAdjust="spacingAndGlyphs">Mean Difference (95% CI)</text>
<text x="109.5" y="477.4" font-size="7.4" fill="#222" stroke="#222" stroke-width="0.1" text-anchor="start" font-weight="normal" textLength="36" lengthAdjust="spacingAndGlyphs">Donation-2</text>
<text x="109.5" y="486.8" font-size="7.4" fill="#222" stroke="#222" stroke-width="0.1" text-anchor="start" font-weight="normal">PTR-2</text>
<text x="196.6" y="477.4" font-size="7.4" fill="#222" stroke="#222" stroke-width="0.1" text-anchor="middle" font-weight="normal" textLength="37.5" lengthAdjust="spacingAndGlyphs">66 (58 - 73)</text>
<text x="196.6" y="486.8" font-size="7.4" fill="#222" stroke="#222" stroke-width="0.1" text-anchor="middle" font-weight="normal" textLength="37.5" lengthAdjust="spacingAndGlyphs">24 (16 - 32)</text>
<text x="277" y="439.4" font-size="14" fill="#000" stroke="#000" stroke-width="0" text-anchor="start" font-weight="bold">F</text>
<text x="424.9" y="449" font-size="11" fill="#4a4a4a" stroke="#4a4a4a" stroke-width="0.1" text-anchor="middle" font-weight="normal" textLength="137.3" lengthAdjust="spacingAndGlyphs">Soluble Transferrin Receptor</text>
<line x1="331.5" y1="452" x2="331.5" y2="578.3" stroke="#111" stroke-width="1.3"/>
<line x1="327.5" y1="455" x2="331.5" y2="455" stroke="#111" stroke-width="1.2"/>
<text x="324.2" y="457.7" font-size="8.6" fill="#2a2a2a" stroke="#2a2a2a" stroke-width="0.1" text-anchor="end" font-weight="normal" textLength="8.61" lengthAdjust="spacingAndGlyphs">10</text>
<line x1="327.5" y1="480" x2="331.5" y2="480" stroke="#111" stroke-width="1.2"/>
<text x="324.2" y="482.7" font-size="8.6" fill="#2a2a2a" stroke="#2a2a2a" stroke-width="0.1" text-anchor="end" font-weight="normal" textLength="4.3" lengthAdjust="spacingAndGlyphs">8</text>
<line x1="327.5" y1="505" x2="331.5" y2="505" stroke="#111" stroke-width="1.2"/>
<text x="324.2" y="507.7" font-size="8.6" fill="#2a2a2a" stroke="#2a2a2a" stroke-width="0.1" text-anchor="end" font-weight="normal" textLength="4.3" lengthAdjust="spacingAndGlyphs">6</text>
<line x1="327.5" y1="529.4" x2="331.5" y2="529.4" stroke="#111" stroke-width="1.2"/>
<text x="324.2" y="532.1" font-size="8.6" fill="#2a2a2a" stroke="#2a2a2a" stroke-width="0.1" text-anchor="end" font-weight="normal" textLength="4.3" lengthAdjust="spacingAndGlyphs">4</text>
<line x1="327.5" y1="554.2" x2="331.5" y2="554.2" stroke="#111" stroke-width="1.2"/>
<text x="324.2" y="556.9000000000001" font-size="8.6" fill="#2a2a2a" stroke="#2a2a2a" stroke-width="0.1" text-anchor="end" font-weight="normal" textLength="4.3" lengthAdjust="spacingAndGlyphs">2</text>
<line x1="327.5" y1="578.3" x2="331.5" y2="578.3" stroke="#111" stroke-width="1.2"/>
<text x="324.2" y="581.0" font-size="8.6" fill="#2a2a2a" stroke="#2a2a2a" stroke-width="0.1" text-anchor="end" font-weight="normal" textLength="4.3" lengthAdjust="spacingAndGlyphs">0</text>
<line x1="330.9" y1="578.3" x2="518.5" y2="578.3" stroke="#111" stroke-width="1.4"/>
<line x1="331.5" y1="578.3" x2="331.5" y2="581.8" stroke="#111" stroke-width="1.2"/>
<line x1="346.2" y1="578.3" x2="346.2" y2="581.8" stroke="#111" stroke-width="1.2"/>
<line x1="374.5" y1="578.3" x2="374.5" y2="581.8" stroke="#111" stroke-width="1.2"/>
<line x1="476.1" y1="578.3" x2="476.1" y2="581.8" stroke="#111" stroke-width="1.2"/>
<line x1="504.4" y1="578.3" x2="504.4" y2="581.8" stroke="#111" stroke-width="1.2"/>
<text x="332.9" y="591.9" font-size="8" fill="#2a2a2a" stroke="#2a2a2a" stroke-width="0.1" text-anchor="end" font-weight="normal" transform="rotate(-45 332.9 591.9)">Screening</text>
<text x="349.0" y="591.9" font-size="8" fill="#2a2a2a" stroke="#2a2a2a" stroke-width="0.1" text-anchor="end" font-weight="normal" transform="rotate(-45 349.0 591.9)">Donation-1</text>
<text x="377.3" y="591.9" font-size="8" fill="#2a2a2a" stroke="#2a2a2a" stroke-width="0.1" text-anchor="end" font-weight="normal" transform="rotate(-45 377.3 591.9)">PTR-1</text>
<text x="478.9" y="591.9" font-size="8" fill="#2a2a2a" stroke="#2a2a2a" stroke-width="0.1" text-anchor="end" font-weight="normal" transform="rotate(-45 478.9 591.9)">Donation-2</text>
<text x="507.2" y="591.9" font-size="8" fill="#2a2a2a" stroke="#2a2a2a" stroke-width="0.1" text-anchor="end" font-weight="normal" transform="rotate(-45 507.2 591.9)">PTR-2</text>
<text x="295.5" y="514.5" font-size="9.8" fill="#2a2a2a" stroke="#2a2a2a" stroke-width="0.1" text-anchor="middle" font-weight="normal" transform="rotate(-90 295.5 514.5)" textLength="69.7" lengthAdjust="spacingAndGlyphs">Soluble Transferrin</text>
<text x="308.6" y="514.5" font-size="9.8" fill="#2a2a2a" stroke="#2a2a2a" stroke-width="0.1" text-anchor="middle" font-weight="normal" transform="rotate(-90 308.6 514.5)" textLength="57.7" lengthAdjust="spacingAndGlyphs">receptor (mg/L)</text>
<line x1="375.5" y1="470" x2="375.5" y2="578.3" stroke="#333" stroke-width="0.9" stroke-dasharray="1,1.2"/>
<text x="348.3" y="465.2" font-size="7.6" fill="#2a2a2a" stroke="#2a2a2a" stroke-width="0.1" text-anchor="start" font-weight="normal" textLength="48.6" lengthAdjust="spacingAndGlyphs">Randomization</text>
<path d="M331.5,513 L346.2,515.5 L374.5,496.2 L476.1,541.5 L504.4,531.7" fill="none" stroke="#bb173f" stroke-width="1.2" stroke-dasharray="1.9,1.4"/>
<line x1="331.5" y1="507" x2="331.5" y2="520" stroke="#bb173f" stroke-width="1.0"/>
<line x1="330.1" y1="507" x2="332.9" y2="507" stroke="#bb173f" stroke-width="1.1"/>
<line x1="330.1" y1="520" x2="332.9" y2="520" stroke="#bb173f" stroke-width="1.1"/>
<circle cx="331.5" cy="513" r="1.6" fill="#bb173f"/>
<line x1="346.2" y1="509" x2="346.2" y2="522" stroke="#bb173f" stroke-width="1.0"/>
<line x1="344.8" y1="509" x2="347.59999999999997" y2="509" stroke="#bb173f" stroke-width="1.1"/>
<line x1="344.8" y1="522" x2="347.59999999999997" y2="522" stroke="#bb173f" stroke-width="1.1"/>
<circle cx="346.2" cy="515.5" r="1.6" fill="#bb173f"/>
<line x1="374.5" y1="489" x2="374.5" y2="503" stroke="#bb173f" stroke-width="1.0"/>
<line x1="373.1" y1="489" x2="375.9" y2="489" stroke="#bb173f" stroke-width="1.1"/>
<line x1="373.1" y1="503" x2="375.9" y2="503" stroke="#bb173f" stroke-width="1.1"/>
<circle cx="374.5" cy="496.2" r="1.6" fill="#bb173f"/>
<line x1="476.1" y1="534.6" x2="476.1" y2="549.6" stroke="#bb173f" stroke-width="1.0"/>
<line x1="474.70000000000005" y1="534.6" x2="477.5" y2="534.6" stroke="#bb173f" stroke-width="1.1"/>
<line x1="474.70000000000005" y1="549.6" x2="477.5" y2="549.6" stroke="#bb173f" stroke-width="1.1"/>
<circle cx="476.1" cy="541.5" r="1.6" fill="#bb173f"/>
<line x1="504.4" y1="523.6" x2="504.4" y2="539.5" stroke="#bb173f" stroke-width="1.0"/>
<line x1="503.0" y1="523.6" x2="505.79999999999995" y2="523.6" stroke="#bb173f" stroke-width="1.1"/>
<line x1="503.0" y1="539.5" x2="505.79999999999995" y2="539.5" stroke="#bb173f" stroke-width="1.1"/>
<circle cx="504.4" cy="531.7" r="1.6" fill="#bb173f"/>
<path d="M331.5,512.3 L346.2,515.5 L374.5,490.6 L476.1,511.2 L504.4,488.5" fill="none" stroke="#1d406c" stroke-width="1.25"/>
<line x1="331.5" y1="506" x2="331.5" y2="519" stroke="#1d406c" stroke-width="1.0"/>
<line x1="330.1" y1="506" x2="332.9" y2="506" stroke="#1d406c" stroke-width="1.1"/>
<line x1="330.1" y1="519" x2="332.9" y2="519" stroke="#1d406c" stroke-width="1.1"/>
<circle cx="331.5" cy="512.3" r="1.6" fill="#1d406c"/>
<line x1="346.2" y1="508.75" x2="346.2" y2="523.75" stroke="#1d406c" stroke-width="1.0"/>
<line x1="344.8" y1="508.75" x2="347.59999999999997" y2="508.75" stroke="#1d406c" stroke-width="1.1"/>
<line x1="344.8" y1="523.75" x2="347.59999999999997" y2="523.75" stroke="#1d406c" stroke-width="1.1"/>
<circle cx="346.2" cy="515.5" r="1.6" fill="#1d406c"/>
<line x1="374.5" y1="483.75" x2="374.5" y2="497.5" stroke="#1d406c" stroke-width="1.0"/>
<line x1="373.1" y1="483.75" x2="375.9" y2="483.75" stroke="#1d406c" stroke-width="1.1"/>
<line x1="373.1" y1="497.5" x2="375.9" y2="497.5" stroke="#1d406c" stroke-width="1.1"/>
<circle cx="374.5" cy="490.6" r="1.6" fill="#1d406c"/>
<line x1="476.1" y1="504" x2="476.1" y2="519.3" stroke="#1d406c" stroke-width="1.0"/>
<line x1="474.70000000000005" y1="504" x2="477.5" y2="504" stroke="#1d406c" stroke-width="1.1"/>
<line x1="474.70000000000005" y1="519.3" x2="477.5" y2="519.3" stroke="#1d406c" stroke-width="1.1"/>
<circle cx="476.1" cy="511.2" r="1.6" fill="#1d406c"/>
<line x1="504.4" y1="480.4" x2="504.4" y2="496.2" stroke="#1d406c" stroke-width="1.0"/>
<line x1="503.0" y1="480.4" x2="505.79999999999995" y2="480.4" stroke="#1d406c" stroke-width="1.1"/>
<line x1="503.0" y1="496.2" x2="505.79999999999995" y2="496.2" stroke="#1d406c" stroke-width="1.1"/>
<circle cx="504.4" cy="488.5" r="1.9" fill="#fff" stroke="#1d406c" stroke-width="1.1"/>
<text x="431" y="497" font-size="8" fill="#2a2a2a" stroke="#2a2a2a" stroke-width="0.1" text-anchor="middle" font-weight="normal" transform="rotate(12 431 497)" textLength="48" lengthAdjust="spacingAndGlyphs">Placebo group</text>
<text x="417" y="525" font-size="8" fill="#2a2a2a" stroke="#2a2a2a" stroke-width="0.1" text-anchor="middle" font-weight="normal" transform="rotate(20 417 525)" textLength="35" lengthAdjust="spacingAndGlyphs">Iron group</text>
<text x="476.3" y="555.9" font-size="7.4" fill="#222" stroke="#222" stroke-width="0.1" text-anchor="middle" font-weight="normal" textLength="85.5" lengthAdjust="spacingAndGlyphs">Mean Difference (95% CI)</text>
<text x="379.5" y="566.5" font-size="7.4" fill="#222" stroke="#222" stroke-width="0.1" text-anchor="start" font-weight="normal" textLength="36" lengthAdjust="spacingAndGlyphs">Donation-2</text>
<text x="379.5" y="576" font-size="7.4" fill="#222" stroke="#222" stroke-width="0.1" text-anchor="start" font-weight="normal">PTR-2</text>
<text x="476.4" y="566.5" font-size="7.4" fill="#222" stroke="#222" stroke-width="0.1" text-anchor="middle" font-weight="normal" textLength="55.4" lengthAdjust="spacingAndGlyphs">−2.5 (−3.3 - −1.6)</text>
<text x="476.4" y="576" font-size="7.4" fill="#222" stroke="#222" stroke-width="0.1" text-anchor="middle" font-weight="normal" textLength="55.4" lengthAdjust="spacingAndGlyphs">−3.5 (−4.4 - −2.6)</text>
<text x="0.5" y="655" font-size="14" fill="#000" stroke="#000" stroke-width="0" text-anchor="start" font-weight="bold">G</text>
<text x="155" y="665.5" font-size="11" fill="#4a4a4a" stroke="#4a4a4a" stroke-width="0.1" text-anchor="middle" font-weight="normal" textLength="103" lengthAdjust="spacingAndGlyphs">Transferrin Saturation</text>
<line x1="61.4" y1="669.5" x2="61.4" y2="796.3" stroke="#111" stroke-width="1.3"/>
<line x1="57.4" y1="672.5" x2="61.4" y2="672.5" stroke="#111" stroke-width="1.2"/>
<text x="54.1" y="675.2" font-size="8.6" fill="#2a2a2a" stroke="#2a2a2a" stroke-width="0.1" text-anchor="end" font-weight="normal" textLength="8.61" lengthAdjust="spacingAndGlyphs">35</text>
<line x1="57.4" y1="690.2" x2="61.4" y2="690.2" stroke="#111" stroke-width="1.2"/>
<text x="54.1" y="692.9000000000001" font-size="8.6" fill="#2a2a2a" stroke="#2a2a2a" stroke-width="0.1" text-anchor="end" font-weight="normal" textLength="8.61" lengthAdjust="spacingAndGlyphs">30</text>
<line x1="57.4" y1="707.9" x2="61.4" y2="707.9" stroke="#111" stroke-width="1.2"/>
<text x="54.1" y="710.6" font-size="8.6" fill="#2a2a2a" stroke="#2a2a2a" stroke-width="0.1" text-anchor="end" font-weight="normal" textLength="8.61" lengthAdjust="spacingAndGlyphs">25</text>
<line x1="57.4" y1="725.5" x2="61.4" y2="725.5" stroke="#111" stroke-width="1.2"/>
<text x="54.1" y="728.2" font-size="8.6" fill="#2a2a2a" stroke="#2a2a2a" stroke-width="0.1" text-anchor="end" font-weight="normal" textLength="8.61" lengthAdjust="spacingAndGlyphs">20</text>
<line x1="57.4" y1="743.2" x2="61.4" y2="743.2" stroke="#111" stroke-width="1.2"/>
<text x="54.1" y="745.9000000000001" font-size="8.6" fill="#2a2a2a" stroke="#2a2a2a" stroke-width="0.1" text-anchor="end" font-weight="normal" textLength="8.61" lengthAdjust="spacingAndGlyphs">15</text>
<line x1="57.4" y1="760.9" x2="61.4" y2="760.9" stroke="#111" stroke-width="1.2"/>
<text x="54.1" y="763.6" font-size="8.6" fill="#2a2a2a" stroke="#2a2a2a" stroke-width="0.1" text-anchor="end" font-weight="normal" textLength="8.61" lengthAdjust="spacingAndGlyphs">10</text>
<line x1="57.4" y1="778.6" x2="61.4" y2="778.6" stroke="#111" stroke-width="1.2"/>
<text x="54.1" y="781.3000000000001" font-size="8.6" fill="#2a2a2a" stroke="#2a2a2a" stroke-width="0.1" text-anchor="end" font-weight="normal" textLength="4.3" lengthAdjust="spacingAndGlyphs">5</text>
<line x1="57.4" y1="796.3" x2="61.4" y2="796.3" stroke="#111" stroke-width="1.2"/>
<text x="54.1" y="799.0" font-size="8.6" fill="#2a2a2a" stroke="#2a2a2a" stroke-width="0.1" text-anchor="end" font-weight="normal" textLength="4.3" lengthAdjust="spacingAndGlyphs">0</text>
<line x1="60.8" y1="796.3" x2="247.7" y2="796.3" stroke="#111" stroke-width="1.4"/>
<line x1="61.4" y1="796.3" x2="61.4" y2="799.8" stroke="#111" stroke-width="1.2"/>
<line x1="75.5" y1="796.3" x2="75.5" y2="799.8" stroke="#111" stroke-width="1.2"/>
<line x1="104.5" y1="796.3" x2="104.5" y2="799.8" stroke="#111" stroke-width="1.2"/>
<line x1="205.9" y1="796.3" x2="205.9" y2="799.8" stroke="#111" stroke-width="1.2"/>
<line x1="234.1" y1="796.3" x2="234.1" y2="799.8" stroke="#111" stroke-width="1.2"/>
<text x="64.0" y="809.7" font-size="8" fill="#2a2a2a" stroke="#2a2a2a" stroke-width="0.1" text-anchor="end" font-weight="normal" transform="rotate(-45 64.0 809.7)">Screening</text>
<text x="79.5" y="809.7" font-size="8" fill="#2a2a2a" stroke="#2a2a2a" stroke-width="0.1" text-anchor="end" font-weight="normal" transform="rotate(-45 79.5 809.7)">Donation-1</text>
<text x="108.5" y="809.7" font-size="8" fill="#2a2a2a" stroke="#2a2a2a" stroke-width="0.1" text-anchor="end" font-weight="normal" transform="rotate(-45 108.5 809.7)">PTR-1</text>
<text x="209.9" y="809.7" font-size="8" fill="#2a2a2a" stroke="#2a2a2a" stroke-width="0.1" text-anchor="end" font-weight="normal" transform="rotate(-45 209.9 809.7)">Donation-2</text>
<text x="238.1" y="809.7" font-size="8" fill="#2a2a2a" stroke="#2a2a2a" stroke-width="0.1" text-anchor="end" font-weight="normal" transform="rotate(-45 238.1 809.7)">PTR-2</text>
<text x="38.3" y="731.7" font-size="9.8" fill="#2a2a2a" stroke="#2a2a2a" stroke-width="0.1" text-anchor="middle" font-weight="normal" transform="rotate(-90 38.3 731.7)" textLength="95" lengthAdjust="spacingAndGlyphs">Transferrin saturation (%)</text>
<line x1="105.5" y1="687" x2="105.5" y2="796.3" stroke="#333" stroke-width="0.9" stroke-dasharray="1,1.2"/>
<text x="78.3" y="681.7" font-size="7.6" fill="#2a2a2a" stroke="#2a2a2a" stroke-width="0.1" text-anchor="start" font-weight="normal" textLength="48.6" lengthAdjust="spacingAndGlyphs">Randomization</text>
<path d="M61.4,743.75 L75.5,743 L104.5,757.5 L205.9,687 L234.1,720.8" fill="none" stroke="#bb173f" stroke-width="1.2" stroke-dasharray="1.9,1.4"/>
<line x1="61.4" y1="731.5" x2="61.4" y2="756.25" stroke="#bb173f" stroke-width="1.0"/>
<line x1="60.0" y1="731.5" x2="62.8" y2="731.5" stroke="#bb173f" stroke-width="1.1"/>
<line x1="60.0" y1="756.25" x2="62.8" y2="756.25" stroke="#bb173f" stroke-width="1.1"/>
<circle cx="61.4" cy="743.75" r="1.6" fill="#bb173f"/>
<line x1="75.5" y1="732" x2="75.5" y2="754.5" stroke="#bb173f" stroke-width="1.0"/>
<line x1="74.1" y1="732" x2="76.9" y2="732" stroke="#bb173f" stroke-width="1.1"/>
<line x1="74.1" y1="754.5" x2="76.9" y2="754.5" stroke="#bb173f" stroke-width="1.1"/>
<circle cx="75.5" cy="743" r="1.6" fill="#bb173f"/>
<line x1="104.5" y1="745" x2="104.5" y2="770" stroke="#bb173f" stroke-width="1.0"/>
<line x1="103.1" y1="745" x2="105.9" y2="745" stroke="#bb173f" stroke-width="1.1"/>
<line x1="103.1" y1="770" x2="105.9" y2="770" stroke="#bb173f" stroke-width="1.1"/>
<circle cx="104.5" cy="757.5" r="1.6" fill="#bb173f"/>
<line x1="205.9" y1="674.6" x2="205.9" y2="699.1" stroke="#bb173f" stroke-width="1.0"/>
<line x1="204.5" y1="674.6" x2="207.3" y2="674.6" stroke="#bb173f" stroke-width="1.1"/>
<line x1="204.5" y1="699.1" x2="207.3" y2="699.1" stroke="#bb173f" stroke-width="1.1"/>
<circle cx="205.9" cy="687" r="1.6" fill="#bb173f"/>
<line x1="234.1" y1="708.4" x2="234.1" y2="732.9" stroke="#bb173f" stroke-width="1.0"/>
<line x1="232.7" y1="708.4" x2="235.5" y2="708.4" stroke="#bb173f" stroke-width="1.1"/>
<line x1="232.7" y1="732.9" x2="235.5" y2="732.9" stroke="#bb173f" stroke-width="1.1"/>
<circle cx="234.1" cy="720.8" r="1.6" fill="#bb173f"/>
<path d="M61.4,738 L75.5,733.75 L104.5,758.5 L205.9,736.6 L234.1,758.8" fill="none" stroke="#1d406c" stroke-width="1.25"/>
<line x1="61.4" y1="724" x2="61.4" y2="750" stroke="#1d406c" stroke-width="1.0"/>
<line x1="60.0" y1="724" x2="62.8" y2="724" stroke="#1d406c" stroke-width="1.1"/>
<line x1="60.0" y1="750" x2="62.8" y2="750" stroke="#1d406c" stroke-width="1.1"/>
<circle cx="61.4" cy="738" r="1.6" fill="#1d406c"/>
<line x1="75.5" y1="721.25" x2="75.5" y2="745" stroke="#1d406c" stroke-width="1.0"/>
<line x1="74.1" y1="721.25" x2="76.9" y2="721.25" stroke="#1d406c" stroke-width="1.1"/>
<line x1="74.1" y1="745" x2="76.9" y2="745" stroke="#1d406c" stroke-width="1.1"/>
<circle cx="75.5" cy="733.75" r="1.6" fill="#1d406c"/>
<line x1="104.5" y1="745.5" x2="104.5" y2="771" stroke="#1d406c" stroke-width="1.0"/>
<line x1="103.1" y1="745.5" x2="105.9" y2="745.5" stroke="#1d406c" stroke-width="1.1"/>
<line x1="103.1" y1="771" x2="105.9" y2="771" stroke="#1d406c" stroke-width="1.1"/>
<circle cx="104.5" cy="758.5" r="1.6" fill="#1d406c"/>
<line x1="205.9" y1="724.2" x2="205.9" y2="749" stroke="#1d406c" stroke-width="1.0"/>
<line x1="204.5" y1="724.2" x2="207.3" y2="724.2" stroke="#1d406c" stroke-width="1.1"/>
<line x1="204.5" y1="749" x2="207.3" y2="749" stroke="#1d406c" stroke-width="1.1"/>
<circle cx="205.9" cy="736.6" r="1.6" fill="#1d406c"/>
<line x1="234.1" y1="746.7" x2="234.1" y2="770.4" stroke="#1d406c" stroke-width="1.0"/>
<line x1="232.7" y1="746.7" x2="235.5" y2="746.7" stroke="#1d406c" stroke-width="1.1"/>
<line x1="232.7" y1="770.4" x2="235.5" y2="770.4" stroke="#1d406c" stroke-width="1.1"/>
<circle cx="234.1" cy="758.8" r="1.9" fill="#fff" stroke="#1d406c" stroke-width="1.1"/>
<text x="161.6" y="712.5" font-size="8" fill="#2a2a2a" stroke="#2a2a2a" stroke-width="0.1" text-anchor="middle" font-weight="normal" transform="rotate(-33 161.6 712.5)" textLength="35" lengthAdjust="spacingAndGlyphs">Iron group</text>
<text x="162.3" y="742.4" font-size="8" fill="#2a2a2a" stroke="#2a2a2a" stroke-width="0.1" text-anchor="middle" font-weight="normal" transform="rotate(-12 162.3 742.4)" textLength="47.5" lengthAdjust="spacingAndGlyphs">Placebo group</text>
<text x="203.4" y="775.6" font-size="7.4" fill="#222" stroke="#222" stroke-width="0.1" text-anchor="middle" font-weight="normal" textLength="85.5" lengthAdjust="spacingAndGlyphs">Mean Difference (95% CI)</text>
<text x="107.2" y="784.8" font-size="7.4" fill="#222" stroke="#222" stroke-width="0.1" text-anchor="start" font-weight="normal" textLength="36" lengthAdjust="spacingAndGlyphs">Donation-2</text>
<text x="107.2" y="792.9" font-size="7.4" fill="#222" stroke="#222" stroke-width="0.1" text-anchor="start" font-weight="normal">PTR-2</text>
<text x="204" y="784.8" font-size="7.4" fill="#222" stroke="#222" stroke-width="0.1" text-anchor="middle" font-weight="normal" textLength="55.7" lengthAdjust="spacingAndGlyphs">14.0 (10.3 - 17.7)</text>
<text x="204" y="792.9" font-size="7.4" fill="#222" stroke="#222" stroke-width="0.1" text-anchor="middle" font-weight="normal" textLength="51.3" lengthAdjust="spacingAndGlyphs">10.9 (7.0 - 14.7)</text>
<text x="275.5" y="655" font-size="14" fill="#000" stroke="#000" stroke-width="0" text-anchor="start" font-weight="bold">H</text>
<text x="424.9" y="665.1" font-size="11" fill="#4a4a4a" stroke="#4a4a4a" stroke-width="0.1" text-anchor="middle" font-weight="normal" textLength="41.8" lengthAdjust="spacingAndGlyphs">Hepcidin</text>
<line x1="331.5" y1="669.5" x2="331.5" y2="796.2" stroke="#111" stroke-width="1.3"/>
<line x1="327.5" y1="672.5" x2="331.5" y2="672.5" stroke="#111" stroke-width="1.2"/>
<text x="324.2" y="675.2" font-size="8.6" fill="#2a2a2a" stroke="#2a2a2a" stroke-width="0.1" text-anchor="end" font-weight="normal" textLength="8.61" lengthAdjust="spacingAndGlyphs">50</text>
<line x1="327.5" y1="697.3" x2="331.5" y2="697.3" stroke="#111" stroke-width="1.2"/>
<text x="324.2" y="700.0" font-size="8.6" fill="#2a2a2a" stroke="#2a2a2a" stroke-width="0.1" text-anchor="end" font-weight="normal" textLength="8.61" lengthAdjust="spacingAndGlyphs">40</text>
<line x1="327.5" y1="722" x2="331.5" y2="722" stroke="#111" stroke-width="1.2"/>
<text x="324.2" y="724.7" font-size="8.6" fill="#2a2a2a" stroke="#2a2a2a" stroke-width="0.1" text-anchor="end" font-weight="normal" textLength="8.61" lengthAdjust="spacingAndGlyphs">30</text>
<line x1="327.5" y1="746.6" x2="331.5" y2="746.6" stroke="#111" stroke-width="1.2"/>
<text x="324.2" y="749.3000000000001" font-size="8.6" fill="#2a2a2a" stroke="#2a2a2a" stroke-width="0.1" text-anchor="end" font-weight="normal" textLength="8.61" lengthAdjust="spacingAndGlyphs">20</text>
<line x1="327.5" y1="771.4" x2="331.5" y2="771.4" stroke="#111" stroke-width="1.2"/>
<text x="324.2" y="774.1" font-size="8.6" fill="#2a2a2a" stroke="#2a2a2a" stroke-width="0.1" text-anchor="end" font-weight="normal" textLength="8.61" lengthAdjust="spacingAndGlyphs">10</text>
<line x1="327.5" y1="796.2" x2="331.5" y2="796.2" stroke="#111" stroke-width="1.2"/>
<text x="324.2" y="798.9000000000001" font-size="8.6" fill="#2a2a2a" stroke="#2a2a2a" stroke-width="0.1" text-anchor="end" font-weight="normal" textLength="4.3" lengthAdjust="spacingAndGlyphs">0</text>
<line x1="330.9" y1="796.2" x2="518.5" y2="796.2" stroke="#111" stroke-width="1.4"/>
<line x1="331.5" y1="796.2" x2="331.5" y2="799.7" stroke="#111" stroke-width="1.2"/>
<line x1="346.2" y1="796.2" x2="346.2" y2="799.7" stroke="#111" stroke-width="1.2"/>
<line x1="374.4" y1="796.2" x2="374.4" y2="799.7" stroke="#111" stroke-width="1.2"/>
<line x1="476.1" y1="796.2" x2="476.1" y2="799.7" stroke="#111" stroke-width="1.2"/>
<line x1="504.4" y1="796.2" x2="504.4" y2="799.7" stroke="#111" stroke-width="1.2"/>
<text x="334.1" y="807.3" font-size="8" fill="#2a2a2a" stroke="#2a2a2a" stroke-width="0.1" text-anchor="end" font-weight="normal" transform="rotate(-45 334.1 807.3)">Screening</text>
<text x="350.2" y="807.3" font-size="8" fill="#2a2a2a" stroke="#2a2a2a" stroke-width="0.1" text-anchor="end" font-weight="normal" transform="rotate(-45 350.2 807.3)">Donation-1</text>
<text x="378.4" y="807.3" font-size="8" fill="#2a2a2a" stroke="#2a2a2a" stroke-width="0.1" text-anchor="end" font-weight="normal" transform="rotate(-45 378.4 807.3)">PTR-1</text>
<text x="480.1" y="807.3" font-size="8" fill="#2a2a2a" stroke="#2a2a2a" stroke-width="0.1" text-anchor="end" font-weight="normal" transform="rotate(-45 480.1 807.3)">Donation-2</text>
<text x="508.4" y="807.3" font-size="8" fill="#2a2a2a" stroke="#2a2a2a" stroke-width="0.1" text-anchor="end" font-weight="normal" transform="rotate(-45 508.4 807.3)">PTR-2</text>
<text x="307.9" y="732.6" font-size="9.8" fill="#2a2a2a" stroke="#2a2a2a" stroke-width="0.1" text-anchor="middle" font-weight="normal" transform="rotate(-90 307.9 732.6)" textLength="64.9" lengthAdjust="spacingAndGlyphs">Hepcidin (ng/mL)</text>
<line x1="375.5" y1="687" x2="375.5" y2="796.2" stroke="#333" stroke-width="0.9" stroke-dasharray="1,1.2"/>
<text x="348.3" y="682.2" font-size="7.6" fill="#2a2a2a" stroke="#2a2a2a" stroke-width="0.1" text-anchor="start" font-weight="normal" textLength="48.6" lengthAdjust="spacingAndGlyphs">Randomization</text>
<path d="M331.5,772.5 L346.2,752.5 L374.4,758.75 L476.1,684.7 L504.4,731.7" fill="none" stroke="#bb173f" stroke-width="1.2" stroke-dasharray="1.9,1.4"/>
<line x1="331.5" y1="762" x2="331.5" y2="782.5" stroke="#bb173f" stroke-width="1.0"/>
<line x1="330.1" y1="762" x2="332.9" y2="762" stroke="#bb173f" stroke-width="1.1"/>
<line x1="330.1" y1="782.5" x2="332.9" y2="782.5" stroke="#bb173f" stroke-width="1.1"/>
<circle cx="331.5" cy="772.5" r="1.6" fill="#bb173f"/>
<line x1="346.2" y1="742" x2="346.2" y2="763" stroke="#bb173f" stroke-width="1.0"/>
<line x1="344.8" y1="742" x2="347.59999999999997" y2="742" stroke="#bb173f" stroke-width="1.1"/>
<line x1="344.8" y1="763" x2="347.59999999999997" y2="763" stroke="#bb173f" stroke-width="1.1"/>
<circle cx="346.2" cy="752.5" r="1.6" fill="#bb173f"/>
<line x1="374.4" y1="748.5" x2="374.4" y2="768.75" stroke="#bb173f" stroke-width="1.0"/>
<line x1="373.0" y1="748.5" x2="375.79999999999995" y2="748.5" stroke="#bb173f" stroke-width="1.1"/>
<line x1="373.0" y1="768.75" x2="375.79999999999995" y2="768.75" stroke="#bb173f" stroke-width="1.1"/>
<circle cx="374.4" cy="758.75" r="1.6" fill="#bb173f"/>
<line x1="476.1" y1="673.2" x2="476.1" y2="695.4" stroke="#bb173f" stroke-width="1.0"/>
<line x1="474.70000000000005" y1="673.2" x2="477.5" y2="673.2" stroke="#bb173f" stroke-width="1.1"/>
<line x1="474.70000000000005" y1="695.4" x2="477.5" y2="695.4" stroke="#bb173f" stroke-width="1.1"/>
<circle cx="476.1" cy="684.7" r="1.6" fill="#bb173f"/>
<line x1="504.4" y1="720.8" x2="504.4" y2="742.4" stroke="#bb173f" stroke-width="1.0"/>
<line x1="503.0" y1="720.8" x2="505.79999999999995" y2="720.8" stroke="#bb173f" stroke-width="1.1"/>
<line x1="503.0" y1="742.4" x2="505.79999999999995" y2="742.4" stroke="#bb173f" stroke-width="1.1"/>
<circle cx="504.4" cy="731.7" r="1.6" fill="#bb173f"/>
<path d="M331.5,771.25 L346.2,750.5 L374.4,757.5 L476.1,752.2 L504.4,753.1" fill="none" stroke="#1d406c" stroke-width="1.25"/>
<line x1="331.5" y1="761.25" x2="331.5" y2="781" stroke="#1d406c" stroke-width="1.0"/>
<line x1="330.1" y1="761.25" x2="332.9" y2="761.25" stroke="#1d406c" stroke-width="1.1"/>
<line x1="330.1" y1="781" x2="332.9" y2="781" stroke="#1d406c" stroke-width="1.1"/>
<circle cx="331.5" cy="771.25" r="1.6" fill="#1d406c"/>
<line x1="346.2" y1="741.25" x2="346.2" y2="761.25" stroke="#1d406c" stroke-width="1.0"/>
<line x1="344.8" y1="741.25" x2="347.59999999999997" y2="741.25" stroke="#1d406c" stroke-width="1.1"/>
<line x1="344.8" y1="761.25" x2="347.59999999999997" y2="761.25" stroke="#1d406c" stroke-width="1.1"/>
<circle cx="346.2" cy="750.5" r="1.6" fill="#1d406c"/>
<line x1="374.4" y1="747.9" x2="374.4" y2="768.1" stroke="#1d406c" stroke-width="1.0"/>
<line x1="373.0" y1="747.9" x2="375.79999999999995" y2="747.9" stroke="#1d406c" stroke-width="1.1"/>
<line x1="373.0" y1="768.1" x2="375.79999999999995" y2="768.1" stroke="#1d406c" stroke-width="1.1"/>
<circle cx="374.4" cy="757.5" r="1.6" fill="#1d406c"/>
<line x1="476.1" y1="742.1" x2="476.1" y2="762.3" stroke="#1d406c" stroke-width="1.0"/>
<line x1="474.70000000000005" y1="742.1" x2="477.5" y2="742.1" stroke="#1d406c" stroke-width="1.1"/>
<line x1="474.70000000000005" y1="762.3" x2="477.5" y2="762.3" stroke="#1d406c" stroke-width="1.1"/>
<circle cx="476.1" cy="752.2" r="1.6" fill="#1d406c"/>
<line x1="504.4" y1="743" x2="504.4" y2="764" stroke="#1d406c" stroke-width="1.0"/>
<line x1="503.0" y1="743" x2="505.79999999999995" y2="743" stroke="#1d406c" stroke-width="1.1"/>
<line x1="503.0" y1="764" x2="505.79999999999995" y2="764" stroke="#1d406c" stroke-width="1.1"/>
<circle cx="504.4" cy="753.1" r="1.9" fill="#fff" stroke="#1d406c" stroke-width="1.1"/>
<text x="425.2" y="715.5" font-size="8" fill="#2a2a2a" stroke="#2a2a2a" stroke-width="0.1" text-anchor="middle" font-weight="normal" transform="rotate(-37 425.2 715.5)" textLength="35" lengthAdjust="spacingAndGlyphs">Iron group</text>
<text x="433.5" y="750.4" font-size="8" fill="#2a2a2a" stroke="#2a2a2a" stroke-width="0.1" text-anchor="middle" font-weight="normal" transform="rotate(-1 433.5 750.4)" textLength="48" lengthAdjust="spacingAndGlyphs">Placebo group</text>
<text x="477.6" y="774.2" font-size="7.4" fill="#222" stroke="#222" stroke-width="0.1" text-anchor="middle" font-weight="normal" textLength="85.5" lengthAdjust="spacingAndGlyphs">Mean Difference (95% CI)</text>
<text x="378.1" y="784.2" font-size="7.4" fill="#222" stroke="#222" stroke-width="0.1" text-anchor="start" font-weight="normal" textLength="36" lengthAdjust="spacingAndGlyphs">Donation-2</text>
<text x="378.1" y="793.3" font-size="7.4" fill="#222" stroke="#222" stroke-width="0.1" text-anchor="start" font-weight="normal">PTR-2</text>
<text x="477.1" y="784.2" font-size="7.4" fill="#222" stroke="#222" stroke-width="0.1" text-anchor="middle" font-weight="normal" textLength="55.7" lengthAdjust="spacingAndGlyphs">27.5 (21.4 - 33.7)</text>
<text x="477.1" y="793.3" font-size="7.4" fill="#222" stroke="#222" stroke-width="0.1" text-anchor="middle" font-weight="normal" textLength="49" lengthAdjust="spacingAndGlyphs">8.8 (2.4 - 15.1)</text>
</svg></body></html>
